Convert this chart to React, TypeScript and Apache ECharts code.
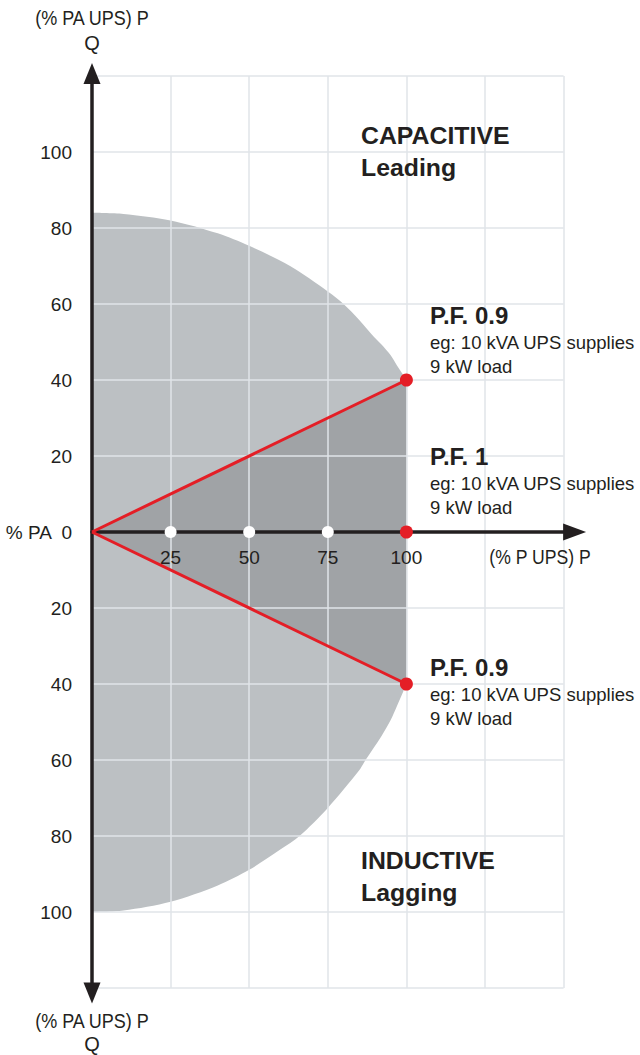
import React, { useEffect, useRef } from "react";
import * as echarts from "echarts";

// ---- data ----
const xLabelValues = [25, 50, 75, 100];
// outer boundary of the operating area (P %, Q %)
const capacitiveBoundary = [
  [0, 84], [10, 83.7], [25, 82], [40, 78.6], [50, 75.3], [63, 70], [75, 63.3], [80, 60],
  [85, 55.8], [89, 52], [92, 49.4], [95, 46.5], [97, 43.8], [99, 41.3], [100, 40],
];
const inductiveBoundary = [
  [0, -100], [10, -99.6], [25, -97.3], [40, -93], [50, -88.9], [60, -83.5], [66, -80], [75, -72.6],
  [85, -62.7], [87, -60], [92, -53.8], [95, -49.5], [97, -45.8], [99, -42], [100, -40],
];
const leadingPF = [[0, 0], [100, 40]];
const laggingPF = [[0, 0], [100, -40]];
const loadMarks = [[25, 0], [50, 0], [75, 0]];
const pfPoints = [[100, 40], [100, 0], [100, -40]];

const INK = "#231f20";
const RED = "#e41e26";
const LIGHT = "#bcc0c3";
const DARK = "#a0a3a6";
const GRID = "#e1e5e9";
const SANS = "'Liberation Sans', Arial, sans-serif";

function txt(text: string, x: number, y: number, size: number, opts: any = {}) {
  return {
    type: "text",
    x,
    y,
    z: 10,
    scaleX: opts.sx || 1,
    style: {
      text,
      fill: INK,
      fontSize: size,
      fontFamily: SANS,
      fontWeight: opts.weight || "normal",
      align: opts.align || "left",
      verticalAlign: "middle",
    },
  };
}

export default function App() {
  const ref = useRef<HTMLDivElement>(null);
  useEffect(() => {
    document.body.style.margin = "0";
    const chart = echarts.init(ref.current!, null, { renderer: "svg" });
    chart.setOption({
      animation: false,
      grid: { left: 92, right: 76.4, top: 76, bottom: 67, containLabel: false, outerBoundsMode: "none" },
      xAxis: {
        type: "value",
        min: 0,
        max: 150,
        interval: 25,
        z: 3,
        offset: -456,
        axisLine: {
          show: true,
          onZero: false,
          lineStyle: { color: INK, width: 3.5 },
          symbol: ["none", "triangle"],
          symbolSize: [17, 23],
          symbolOffset: [0, 11],
        },
        axisTick: { show: false },
        splitLine: { show: true, lineStyle: { color: GRID, width: 1.5 } },
        axisLabel: {
          margin: 16,
          fontSize: 19,
          fontFamily: SANS,
          color: INK,
          formatter: (v: number) => (xLabelValues.includes(v) ? String(v) : ""),
        },
      },
      yAxis: {
        type: "value",
        min: -120,
        max: 120,
        interval: 20,
        z: 3,
        axisLine: {
          show: true,
          onZero: false,
          lineStyle: { color: INK, width: 3.5 },
          symbol: ["triangle", "triangle"],
          symbolSize: [17, 21],
          symbolOffset: [-5, 2.5],
        },
        axisTick: { show: false },
        splitLine: { show: true, lineStyle: { color: GRID, width: 1.5 } },
        axisLabel: {
          margin: 20,
          fontSize: 19,
          fontFamily: SANS,
          color: INK,
          formatter: (v: number) =>
            v === 0 ? "% PA  0" : Math.abs(v) === 120 ? "" : String(Math.abs(v)),
        },
      },
      series: [
        {
          type: "line",
          data: capacitiveBoundary,
          smooth: 0.3,
          showSymbol: false,
          z: 1,
          lineStyle: { width: 0 },
          areaStyle: { color: LIGHT, opacity: 1 },
          silent: true,
        },
        {
          type: "line",
          data: inductiveBoundary,
          smooth: 0.3,
          showSymbol: false,
          z: 1,
          lineStyle: { width: 0 },
          areaStyle: { color: LIGHT, opacity: 1 },
          silent: true,
        },
        {
          type: "line",
          data: leadingPF,
          showSymbol: false,
          z: 1.5,
          lineStyle: { width: 0 },
          areaStyle: { color: DARK, opacity: 1 },
          silent: true,
        },
        {
          type: "line",
          data: laggingPF,
          showSymbol: false,
          z: 1.5,
          lineStyle: { width: 0 },
          areaStyle: { color: DARK, opacity: 1 },
          silent: true,
        },
        {
          type: "line",
          data: leadingPF,
          showSymbol: false,
          z: 5,
          lineStyle: { width: 3, color: RED },
        },
        {
          type: "line",
          data: laggingPF,
          showSymbol: false,
          z: 5,
          lineStyle: { width: 3, color: RED },
        },
        {
          type: "scatter",
          data: loadMarks,
          symbolSize: 12,
          z: 6,
          itemStyle: { color: "#ffffff", opacity: 1 },
        },
        {
          type: "scatter",
          data: pfPoints,
          symbolSize: 13,
          z: 6,
          itemStyle: { color: RED, opacity: 1 },
        },
      ],
      graphic: [
        txt("(% PA UPS) P", 92, 18, 20, { align: "center", sx: 0.9 }),
        txt("Q", 92, 43, 20, { align: "center" }),
        txt("(% PA UPS) P", 92, 1021, 20, { align: "center", sx: 0.9 }),
        txt("Q", 92, 1044, 20, { align: "center" }),
        txt("(% P UPS) P", 540, 557, 20, { align: "center", sx: 0.88 }),
        txt("CAPACITIVE", 361, 136, 23, { weight: "bold", sx: 1.08 }),
        txt("Leading", 361, 168, 23, { weight: "bold", sx: 1.08 }),
        txt("INDUCTIVE", 361, 861, 23, { weight: "bold", sx: 1.08 }),
        txt("Lagging", 361, 893, 23, { weight: "bold", sx: 1.08 }),
        txt("P.F. 0.9", 430, 315, 24, { weight: "bold" }),
        txt("eg: 10 kVA UPS supplies", 430, 342, 18.5),
        txt("9 kW load", 430, 366, 18.5),
        txt("P.F. 1", 430, 456, 24, { weight: "bold" }),
        txt("eg: 10 kVA UPS supplies", 430, 483, 18.5),
        txt("9 kW load", 430, 507, 18.5),
        txt("P.F. 0.9", 430, 667, 24, { weight: "bold" }),
        txt("eg: 10 kVA UPS supplies", 430, 694, 18.5),
        txt("9 kW load", 430, 718, 18.5),
      ],
    });
    return () => chart.dispose();
  }, []);
  return <div ref={ref} style={{ width: 640, height: 1055 }} />;
}
